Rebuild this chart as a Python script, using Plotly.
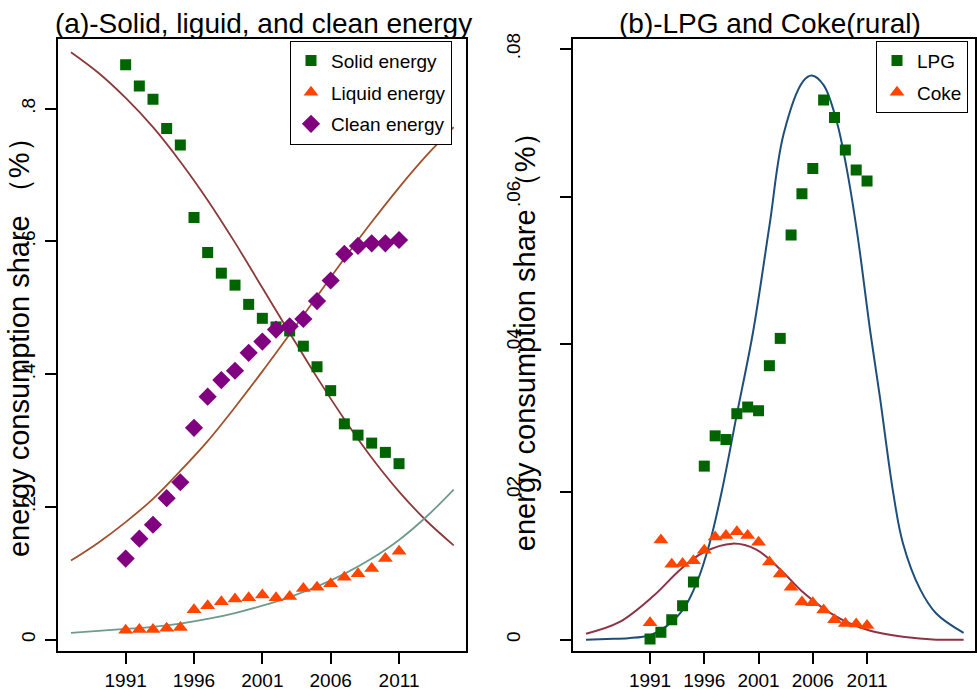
import plotly.graph_objects as go

# ---------------- data: panel (a) ----------------
years = list(range(1991, 2012))
solid = [0.866, 0.834, 0.814, 0.770, 0.745, 0.636, 0.583, 0.552, 0.534, 0.505, 0.484,
         0.471, 0.465, 0.442, 0.411, 0.375, 0.325, 0.308, 0.296, 0.282, 0.265]
liquid = [0.014, 0.015, 0.015, 0.017, 0.018, 0.045, 0.051, 0.057, 0.061, 0.063, 0.067,
          0.063, 0.065, 0.077, 0.079, 0.084, 0.094, 0.099, 0.107, 0.122, 0.133]
clean = [0.122, 0.152, 0.173, 0.213, 0.237, 0.319, 0.366, 0.391, 0.405, 0.432, 0.449,
         0.467, 0.472, 0.483, 0.510, 0.541, 0.581, 0.593, 0.597, 0.597, 0.602]

fit_years_a = [1987, 1989, 1991, 1993, 1995, 1997, 1999, 2001, 2003, 2005, 2007, 2009, 2011, 2013, 2015]
solid_fit = [0.885, 0.854, 0.816, 0.772, 0.720, 0.662, 0.598, 0.530, 0.462, 0.395, 0.332, 0.274, 0.223, 0.179, 0.142]
clean_fit = [0.119, 0.146, 0.177, 0.212, 0.254, 0.299, 0.350, 0.404, 0.460, 0.517, 0.574, 0.629, 0.681, 0.729, 0.772]
liquid_fit = [0.010, 0.013, 0.016, 0.019, 0.024, 0.031, 0.040, 0.051, 0.064, 0.080, 0.099, 0.122, 0.150, 0.185, 0.226]

# ---------------- data: panel (b) ----------------
lpg = [0.0001, 0.0010, 0.0027, 0.0046, 0.0078, 0.0235, 0.0276, 0.0271, 0.0306, 0.0315, 0.0310,
       0.0371, 0.0408, 0.0548, 0.0604, 0.0638, 0.0731, 0.0707, 0.0663, 0.0636, 0.0621]
coke = [0.0023, 0.0135, 0.0102, 0.0103, 0.0107, 0.0121, 0.0139, 0.0141, 0.0146, 0.0141, 0.0132,
        0.0105, 0.0089, 0.0071, 0.0051, 0.0050, 0.0040, 0.0027, 0.0022, 0.0021, 0.0019]

lpg_fit_years = [1985.1, 1987, 1989, 1991, 1992.5, 1994.1, 1995.3, 1996.5, 1997.6, 1999.0, 2000.5,
                 2002.0, 2003.3, 2005.1, 2005.9, 2007.0, 2008.2, 2009.1, 2010.1, 2011.3, 2012.2,
                 2013.4, 2014.3, 2015.9, 2017.4, 2019.9]
lpg_fit = [0.0000, 0.0001, 0.0002, 0.0006, 0.0018, 0.0042, 0.0077, 0.0131, 0.0200, 0.0305, 0.0417,
           0.0560, 0.0684, 0.0756, 0.0764, 0.0751, 0.0702, 0.0640, 0.0550, 0.0417, 0.0327,
           0.0200, 0.0131, 0.0068, 0.0035, 0.0009]

coke_fit_years = [1985.1, 1988.2, 1991.3, 1993.8, 1995.9, 1998.6, 2000.8, 2003.0, 2005.1, 2007.0,
                  2009.1, 2011.3, 2014.3, 2017.4, 2019.9]
coke_fit = [0.0008, 0.0024, 0.0059, 0.0095, 0.0118, 0.0130, 0.0122, 0.0095, 0.0064, 0.0042,
            0.0024, 0.0012, 0.0004, 0.0000, 0.0000]

x_ticks = [1991, 1996, 2001, 2006, 2011]
ya_ticks = [0, 0.2, 0.4, 0.6, 0.8]
ya_text = ["0", ".2", ".4", ".6", ".8"]
yb_ticks = [0, 0.02, 0.04, 0.06, 0.08]
yb_text = ["0", ".02", ".04", ".06", ".08"]

GREEN = "#006400"
ORANGE = "#FF4500"
PURPLE = "#800080"
SOLID_FIT = "#8B3A3A"
CLEAN_FIT = "#A0522D"
LIQ_FIT = "#6F9A8D"
LPG_FIT = "#1F4E79"
COKE_FIT = "#8E3346"
FONT = "Liberation Sans, Arial, sans-serif"

fig = go.Figure()

# panel (a) fits
for fy, col in [(solid_fit, SOLID_FIT), (clean_fit, CLEAN_FIT), (liquid_fit, LIQ_FIT)]:
    fig.add_trace(go.Scatter(x=fit_years_a, y=fy, mode="lines", line=dict(color=col, width=1.8, shape="spline"),
                             showlegend=False, xaxis="x", yaxis="y", hoverinfo="skip"))
# panel (a) markers
fig.add_trace(go.Scatter(x=years, y=solid, mode="markers", name="Solid energy", legendgroup="a1",
                         marker=dict(symbol="square", size=11, color=GREEN), xaxis="x", yaxis="y", legend="legend"))
fig.add_trace(go.Scatter(x=years, y=liquid, mode="markers", name="Liquid energy", legendgroup="a2",
                         marker=dict(symbol="triangle-up", size=13, color=ORANGE), xaxis="x", yaxis="y", legend="legend"))
fig.add_trace(go.Scatter(x=years, y=clean, mode="markers", name="Clean energy", legendgroup="a3",
                         marker=dict(symbol="diamond", size=14, color=PURPLE), xaxis="x", yaxis="y", legend="legend"))

# panel (b) fits
fig.add_trace(go.Scatter(x=lpg_fit_years, y=lpg_fit, mode="lines", line=dict(color=LPG_FIT, width=2, shape="spline"),
                         showlegend=False, xaxis="x2", yaxis="y2", hoverinfo="skip"))
fig.add_trace(go.Scatter(x=coke_fit_years, y=coke_fit, mode="lines", line=dict(color=COKE_FIT, width=2, shape="spline"),
                         showlegend=False, xaxis="x2", yaxis="y2", hoverinfo="skip"))
fig.add_trace(go.Scatter(x=years, y=lpg, mode="markers", name="LPG", legendgroup="b1",
                         marker=dict(symbol="square", size=11, color=GREEN), xaxis="x2", yaxis="y2", legend="legend2"))
fig.add_trace(go.Scatter(x=years, y=coke, mode="markers", name="Coke", legendgroup="b2",
                         marker=dict(symbol="triangle-up", size=13, color=ORANGE), xaxis="x2", yaxis="y2", legend="legend2"))

W, H = 977, 691
axis_common = dict(showgrid=False, zeroline=False, showline=True, mirror=True, linecolor="black", linewidth=2,
                   ticks="outside", ticklen=11, tickwidth=1.5, tickcolor="black",
                   tickfont=dict(family=FONT, size=19, color="black"))
ydom = [(H - 653) / H, (H - 33) / H]

legend_common = dict(xanchor="left", yanchor="top", bgcolor="white", bordercolor="black", borderwidth=1,
                     font=dict(family=FONT, size=19, color="black"), tracegroupgap=4, traceorder="grouped")

fig.update_layout(
    width=W, height=H, margin=dict(l=0, r=0, t=0, b=0),
    paper_bgcolor="white", plot_bgcolor="white",
    font=dict(family=FONT, color="black"),
    xaxis=dict(domain=[58 / W, 466 / W], range=[1986.05, 2015.9], tickvals=x_ticks, anchor="y", **axis_common),
    yaxis=dict(domain=ydom, range=[-0.0179, 0.9054], tickvals=ya_ticks, ticktext=ya_text, tickangle=-90,
               anchor="x", ticklabelstandoff=2, **axis_common),
    xaxis2=dict(domain=[573 / W, 975 / W], range=[1983.9, 2020.95], tickvals=x_ticks, anchor="y2", **axis_common),
    yaxis2=dict(domain=ydom, range=[-0.0016, 0.0814], tickvals=yb_ticks, ticktext=yb_text, tickangle=-90,
                anchor="x2", ticklabelstandoff=32, **axis_common),
    legend=dict(x=290 / W, y=(H - 35) / H, **legend_common),
    legend2=dict(x=876 / W, y=(H - 35) / H, **legend_common),
    annotations=[
        dict(text="(a)-Solid, liguid, and clean energy", x=263 / W, y=(H - 18) / H, xref="paper", yref="paper",
             showarrow=False, xanchor="center", yanchor="middle", font=dict(family=FONT, size=28, color="black")),
        dict(text="(b)-LPG and Coke(rural)", x=770 / W, y=(H - 18) / H, xref="paper", yref="paper",
             showarrow=False, xanchor="center", yanchor="middle", font=dict(family=FONT, size=28, color="black")),
        dict(text="energy consumption share （%）", x=19 / W, y=(H - 338) / H, xref="paper", yref="paper",
             textangle=-90, showarrow=False, xanchor="center", yanchor="middle",
             font=dict(family=FONT, size=29, color="black")),
        dict(text="energy consumption share （%）", x=525 / W, y=(H - 332) / H, xref="paper", yref="paper",
             textangle=-90, showarrow=False, xanchor="center", yanchor="middle",
             font=dict(family=FONT, size=29, color="black")),
    ],
)

fig.write_html("out.html")
